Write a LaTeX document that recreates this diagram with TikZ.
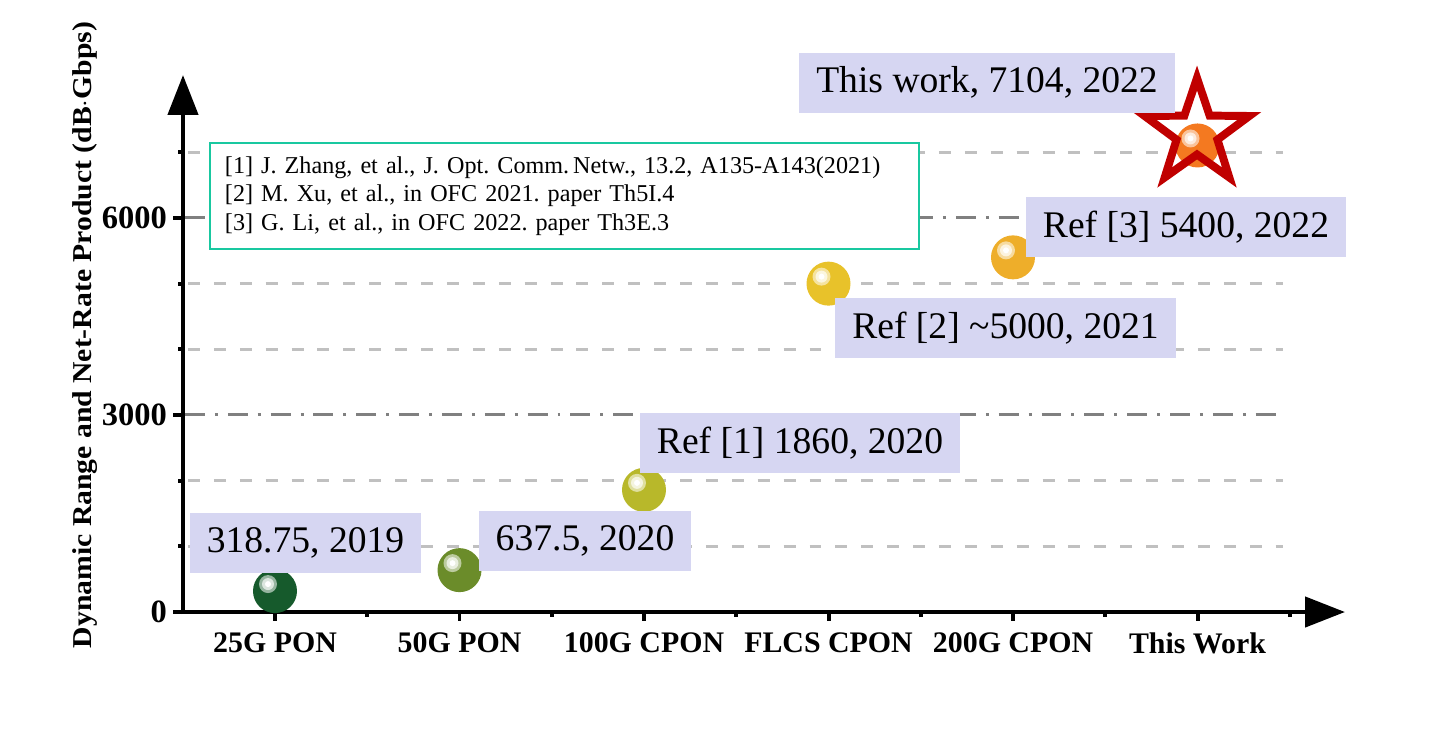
\documentclass[tikz,border=0pt]{standalone}
\usepackage{fontspec}
\setmainfont{Liberation Serif}
\usepackage{tikz}
\usetikzlibrary{arrows.meta}
\definecolor{labelfill}{RGB}{214,214,242}
\definecolor{legendline}{RGB}{25,200,160}
\definecolor{gridlight}{RGB}{192,192,192}
\definecolor{griddark}{RGB}{128,128,128}
\definecolor{starred}{RGB}{192,0,0}
\definecolor{pon25}{RGB}{22,90,44}
\definecolor{pon50}{RGB}{107,140,42}
\definecolor{cpon100}{RGB}{184,184,42}
\definecolor{flcs}{RGB}{232,194,42}
\definecolor{cpon200}{RGB}{238,174,42}
\definecolor{thiswork}{RGB}{244,121,32}
\frenchspacing

\begin{document}
\begin{tikzpicture}
		[
		x = 0.02cm, y = -0.02cm,
		axis/.style = {line width = 4.5*0.5669pt, -{Triangle[length=40*0.5669pt, width=30*0.5669pt]}},
		gridminor/.style = {gridlight, line width = 3*0.5669pt, dash pattern = on 12*0.5669pt off 14*0.5669pt},
		gridmajor/.style = {griddark, line width = 3*0.5669pt, dash pattern = on 20*0.5669pt off 10*0.5669pt on 3*0.5669pt off 10*0.5669pt},
		valuebox/.style = {fill = labelfill, inner xsep = 17*0.02cm, inner ysep = 0pt, minimum height = 60*0.02cm, font = \fontsize{21.4}{25}\selectfont},
		catlabel/.style = {font = \fontsize{17}{20}\selectfont\bfseries},
		ticklabel/.style = {font = \fontsize{18.5}{22}\selectfont\bfseries, anchor = east},
		ball/.style = {circle, minimum size = 44*0.02cm, inner sep = 0pt}
		]
		
		\useasboundingbox (0,0) rectangle (1451,735);
		
		\foreach \v in {1000,2000,4000,5000,7000}
			\draw[gridminor] (188,{612-\v*0.06567}) -- (1283,{612-\v*0.06567});
		\foreach \v in {3000,6000}
			\draw[gridmajor] (185,{612-\v*0.06567}) -- (1283,{612-\v*0.06567});
		
		\coordinate (origin) at (183,612);
		\coordinate (ytop) at (183,75);
		\coordinate (xend) at (1345,612);
		\draw[axis] (183,614) -- (ytop);
		\draw[axis] (181,612) -- (xend);
		
		\foreach \v/\t in {0/0,3000/3000,6000/6000} {
			\draw[line width = 4*0.5669pt] (173,{612-\v*0.06567}) -- (183,{612-\v*0.06567});
			\node[ticklabel] (tick\v) at (173,{612-\v*0.06567}) {\t};
		}
		\foreach \v in {1000,2000,4000,5000,7000}
			\draw[line width = 4*0.5669pt] (178,{612-\v*0.06567}) -- (183,{612-\v*0.06567});
		
		\foreach \i/\t in {0/25G PON,1/50G PON,2/100G CPON,3/FLCS CPON,4/200G CPON,5/This Work} {
			\draw[line width = 4*0.5669pt] ({275+\i*184.5},612) -- ({275+\i*184.5},621);
			\draw[line width = 4*0.5669pt] ({367.25+\i*184.5},612) -- ({367.25+\i*184.5},617);
			\node[catlabel] (cat\i) at ({275+\i*184.5},643) {\t};
		}
		
		\node[rotate = 90, xscale = 1.09, transform shape, font = \fontsize{15.5}{18}\selectfont\bfseries] (ylabel) at (85,335)
			{Dynamic Range and Net-Rate Product (dB$\cdot$Gbps)};
		
		\node[draw = legendline, line width = 2*0.5669pt, fill = white, anchor = north west,
			text width = 679*0.02cm, minimum height = 106*0.02cm, inner xsep = 15*0.02cm, inner ysep = 0pt,
			align = left, font = \fontsize{13.75}{16.4}\selectfont] (refs) at (209,142)
			{{[1]} J. Zhang, et al., J. Opt. Comm.\,Netw., 13.2, A135-A143(2021)\\
			 {[2]} M. Xu, et al., in OFC 2021. paper Th5I.4\\
			 {[3]} G. Li, et al., in OFC 2022. paper Th3E.3};
		
		\foreach \n/\x/\v/\c in {m1/275/318.75/pon25, m2/459.5/637.5/pon50, m3/644/1860/cpon100,
			m4/828.5/5000/flcs, m5/1013/5400/cpon200, m6/1197.5/7104/thiswork} {
			\node[ball, fill = \c] (\n) at (\x,{612-\v*0.06567}) {};
			\fill[\c!45!white] ([shift={(-7,-7)}]\n.center) circle (9*0.02cm);
			\fill[\c!15!white] ([shift={(-7,-7)}]\n.center) circle (6*0.02cm);
			\fill[white] ([shift={(-7,-7)}]\n.center) circle (3*0.02cm);
		}
		
		\draw[starred, line width = 8*0.5669pt, line join = miter]
			(1197,78) \foreach \k in {1,...,9} {
				-- ({1197+(mod(\k,2)==0 ? 55 : 21.5)*sin(36*\k)},{133-(mod(\k,2)==0 ? 55 : 21.5)*cos(36*\k)})
			} -- cycle;
		
		\node[valuebox] (l1) at (305.5,543) {318.75, 2019};
		\node[valuebox] (l2) at (585,540.5) {637.5, 2020};
		\node[valuebox] (l3) at (800,443) {Ref [1] 1860, 2020};
		\node[valuebox] (l4) at (1005.5,328) {Ref [2] \textasciitilde5000, 2021};
		\node[valuebox] (l5) at (1186,227) {Ref [3] 5400, 2022};
		\node[valuebox] (l6) at (987,82.5) {This work, 7104, 2022};
		
		\end{tikzpicture}
\end{document}
